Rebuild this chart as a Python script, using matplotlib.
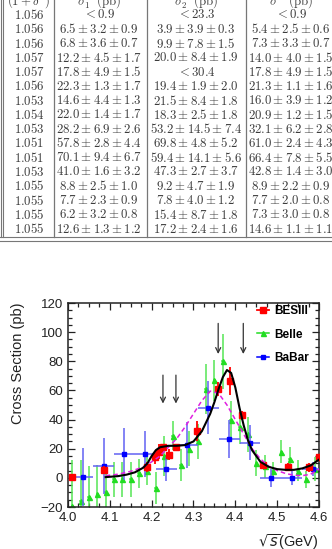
import numpy as np
import matplotlib
matplotlib.use('Agg')
import matplotlib.pyplot as plt
from matplotlib.lines import Line2D

plt.rcParams['mathtext.fontset'] = 'cm'
plt.rcParams['font.family'] = ['Liberation Sans', 'DejaVu Sans']

# ---- table (cut-off page above the figure) ----
tab_header = [r'$(1+\delta^r)$', r'$\sigma_1^B\ \mathrm{(pb)}$', r'$\sigma_2^B\ \mathrm{(pb)}$', r'$\sigma^B\ \mathrm{(pb)}$']
tab_rad = ['1.056', '1.056', '1.056', '1.057', '1.057', '1.056', '1.053', '1.054',
           '1.053', '1.051', '1.051', '1.053', '1.055', '1.055', '1.055', '1.055']
tab_sig1 = ['< 0.9', '6.5 ± 3.2 ± 0.9', '6.8 ± 3.6 ± 0.7', '12.2 ± 4.5 ± 1.7', '17.8 ± 4.9 ± 1.5',
            '22.3 ± 1.3 ± 1.7', '14.6 ± 4.4 ± 1.3', '22.0 ± 1.4 ± 1.7', '28.2 ± 6.9 ± 2.6',
            '57.8 ± 2.8 ± 4.4', '70.1 ± 9.4 ± 6.7', '41.0 ± 1.6 ± 3.2', '8.8 ± 2.5 ± 1.0',
            '7.7 ± 2.3 ± 0.9', '6.2 ± 3.2 ± 0.8', '12.6 ± 1.3 ± 1.2']
tab_sig2 = ['< 23.3', '3.9 ± 3.9 ± 0.3', '9.9 ± 7.8 ± 1.5', '20.0 ± 8.4 ± 1.9', '< 30.4',
            '19.4 ± 1.9 ± 2.0', '21.5 ± 8.4 ± 1.8', '18.3 ± 2.5 ± 1.8', '53.2 ± 14.5 ± 7.4',
            '69.8 ± 4.8 ± 5.2', '59.4 ± 14.1 ± 5.6', '47.3 ± 2.7 ± 3.7', '9.2 ± 4.7 ± 1.9',
            '7.8 ± 4.0 ± 1.2', '15.4 ± 8.7 ± 1.8', '17.2 ± 2.4 ± 1.6']
tab_sigB = ['< 0.9', '5.4 ± 2.5 ± 0.6', '7.3 ± 3.3 ± 0.7', '14.0 ± 4.0 ± 1.5', '17.8 ± 4.9 ± 1.5',
            '21.3 ± 1.1 ± 1.6', '16.0 ± 3.9 ± 1.2', '20.9 ± 1.2 ± 1.5', '32.1 ± 6.2 ± 2.8',
            '61.0 ± 2.4 ± 4.3', '66.4 ± 7.8 ± 5.5', '42.8 ± 1.4 ± 3.0', '8.9 ± 2.2 ± 0.9',
            '7.7 ± 2.0 ± 0.8', '7.3 ± 3.0 ± 0.8', '14.6 ± 1.1 ± 1.1']

# ---- plot data ----
bes_E = [4.009, 4.085, 4.189, 4.208, 4.217, 4.226, 4.242, 4.258,
         4.308, 4.358, 4.387, 4.416, 4.467, 4.527, 4.575, 4.600]
bes_xs = [0.9, 5.4, 7.3, 14.0, 17.8, 21.3, 16.0, 20.9, 32.1, 61.0, 66.4, 42.8, 8.9, 7.7, 7.3, 14.6]
bes_stat = [0.5, 2.5, 3.3, 4.0, 4.9, 1.1, 3.9, 1.2, 6.2, 2.4, 7.8, 1.4, 2.2, 2.0, 3.0, 1.1]
bes_sys = [0.1, 0.6, 0.7, 1.5, 1.5, 1.6, 1.2, 1.5, 2.8, 4.3, 5.5, 3.0, 0.9, 0.8, 0.8, 1.1]

belle_E = [4.01, 4.03, 4.05, 4.07, 4.09, 4.11, 4.13, 4.15, 4.17, 4.19,
           4.21, 4.23, 4.25, 4.27, 4.29, 4.31, 4.33, 4.35, 4.37, 4.39,
           4.41, 4.43, 4.45, 4.47, 4.49, 4.51, 4.53, 4.55, 4.57, 4.59]
belle_xs = [-19.6, -16, -13, -11, -10, -1, -1, -1, 3, 5,
            -7, 15, 29, 9, 20, 25, 61, 67, 80, 40,
            35, 30, 10, 8, 5, 18, 13, 5, -1, 6]
belle_err = [32, 28, 21, 20, 18, 12, 12, 12, 10, 10,
             11, 14, 10, 11, 12, 12, 17, 14, 19, 13,
             12, 12, 9, 8, 6, 8, 8, 7, 6, 8]

babar_E = [4.035, 4.085, 4.135, 4.185, 4.235, 4.285, 4.335, 4.385, 4.435, 4.485, 4.535, 4.585]
babar_xs = [0.5, 8.2, 16.4, 16.4, 6.0, 22.5, 48.2, 26.4, 24.1, -0.2, 0.0, 6.0]
babar_err = [20, 19, 18, 16, 8, 16, 18, 13, 12, 6, 5, 5]

fit_E = [4.09, 4.12, 4.14, 4.16, 4.18, 4.19, 4.20, 4.21, 4.22, 4.24, 4.26, 4.28,
         4.30, 4.32, 4.34, 4.35, 4.36, 4.37, 4.38, 4.39, 4.40, 4.41, 4.42, 4.43,
         4.44, 4.46, 4.48, 4.50, 4.52, 4.54, 4.56, 4.58, 4.60]
fit_xs = [0.5, 1.2, 2.2, 3.8, 7.0, 10.0, 15.0, 19.0, 21.0, 22.0, 22.0, 22.5,
          25.0, 32.0, 44.0, 52.0, 61.0, 69.0, 74.0, 72.0, 62.0, 48.0, 36.0, 26.0,
          19.0, 11.0, 7.5, 6.0, 5.5, 5.5, 6.5, 8.5, 12.5]

alt_E = [4.09, 4.12, 4.15, 4.18, 4.20, 4.22, 4.24, 4.26, 4.28, 4.30, 4.32, 4.34,
         4.36, 4.38, 4.40, 4.42, 4.44, 4.46, 4.48, 4.50, 4.52, 4.54, 4.56, 4.58, 4.60]
alt_xs = [1.5, 2.5, 4.5, 7.5, 11, 15, 21, 27, 35, 44, 53, 59.5,
          58, 50, 40, 30, 20, 13, 8, 5, 3, 1.8, 1.5, 2.5, 6]

arrow_E = [4.227, 4.258, 4.359, 4.419]
arrow_top = [70.5, 70.5, 106, 106]
arrow_bot = [51, 51, 85, 85]

fig = plt.figure(figsize=(3.32, 5.49), dpi=100)

# table drawn in pixel coordinates
tab = fig.add_axes([0, 0, 1, 1])
tab.set_xlim(0, 332)
tab.set_ylim(549, 0)
tab.axis('off')
tc = '#3c3c3c'
lc = '#777777'
col_x = [29, 99, 196, 291]
for j, h in enumerate(tab_header):
    tab.text(col_x[j], 4.5, h, ha='center', va='baseline', fontsize=9.2, color=tc)
for i in range(len(tab_rad)):
    y = 15 + 14.27 * i
    row = [tab_rad[i], tab_sig1[i], tab_sig2[i], tab_sigB[i]]
    for j, s in enumerate(row):
        s = '$' + s.replace('±', r'\pm').replace(' ', r'\ ') + '$'
        s = s.replace(r'\ \pm\ ', r' \pm ').replace(r'<\ ', '< ')
        tab.text(col_x[j], y, s, ha='center', va='center', fontsize=9.2, color=tc)
for xv in [53.5, 146.5, 245.5]:
    tab.plot([xv, xv], [0, 237], color=lc, lw=0.9)
for xv in [1.0, 3.4]:
    tab.plot([xv, xv], [0, 237], color=lc, lw=0.8)
tab.plot([0, 332], [237.3, 237.3], color=lc, lw=0.8)
tab.plot([0, 332], [241.2, 241.2], color=lc, lw=0.8)

# cross section plot
ax = fig.add_axes([68 / 332, (549 - 507) / 549, 251 / 332, 204 / 549])
ax.errorbar(belle_E, belle_xs, yerr=belle_err, fmt='^', color='#22dd22', ecolor='#55e655',
            ms=3.6, elinewidth=1.1, capsize=0, xerr=0.004, zorder=2)
ax.errorbar(babar_E, babar_xs, yerr=babar_err, xerr=0.025, fmt='s', color='#0000ff',
            ecolor='#6262f2', ms=3.3, elinewidth=1.1, capsize=0, zorder=3)
bes_err = np.sqrt(np.array(bes_stat) ** 2 + np.array(bes_sys) ** 2)
ax.errorbar(bes_E, bes_xs, yerr=bes_err, fmt='s', color='#ff0000', ecolor='#ff0000',
            ms=4.6, elinewidth=1.3, capsize=0, zorder=4)
ax.plot(alt_E, alt_xs, color='#e020e0', lw=1.1, ls=(0, (3, 2)), zorder=5)
ax.plot(fit_E, fit_xs, color='black', lw=1.5, zorder=6)
for xa, yt, yb in zip(arrow_E, arrow_top, arrow_bot):
    ax.annotate('', xy=(xa, yb), xytext=(xa, yt),
                arrowprops=dict(arrowstyle='->', color='#333333', lw=0.9,
                                shrinkA=0, shrinkB=0, mutation_scale=9))

ax.set_xlim(4.0, 4.6)
ax.set_ylim(-20, 120)
ax.set_xticks([4.0, 4.1, 4.2, 4.3, 4.4, 4.5, 4.6])
ax.set_yticks([-20, 0, 20, 40, 60, 80, 100, 120])
ax.set_xticks(np.arange(4.0, 4.6001, 0.025), minor=True)
ax.set_yticks(np.arange(-20, 120.1, 5), minor=True)
ax.tick_params(which='both', direction='in', top=True, right=True, labelsize=9.5,
               colors='#222222', width=0.9)
ax.tick_params(which='major', length=5)
ax.tick_params(which='minor', length=2.6)
for sp in ax.spines.values():
    sp.set_linewidth(1.1)
    sp.set_color('#222222')

ax.set_ylabel('Cross Section (pb)', fontsize=10.5, color='#222222')
ax.yaxis.set_label_coords(-0.17, 1.0)
ax.yaxis.label.set_ha('right')
xl = ax.set_xlabel(r'$\sqrt{s}$(GeV)', fontsize=10.5, color='#222222')
xl.set_math_fontfamily('dejavusans')
xl.set_va('center')
ax.xaxis.set_label_coords(1.0, -0.172)
ax.xaxis.label.set_ha('right')

handles = [Line2D([], [], color='#ff0000', marker='s', ms=4.6, lw=1.3),
           Line2D([], [], color='#22dd22', marker='^', ms=3.6, lw=1.1),
           Line2D([], [], color='#0000ff', marker='s', ms=3.3, lw=1.1)]
leg = ax.legend(handles, ['BESIII', 'Belle', 'BaBar'], loc='upper left',
                bbox_to_anchor=(0.745, 1.0), frameon=False, handlelength=1.0,
                handletextpad=0.45, labelspacing=0.95, borderpad=0.2, borderaxespad=0,
                prop={'weight': 'bold', 'size': 8.5})

fig.savefig('out.png', dpi=100)
